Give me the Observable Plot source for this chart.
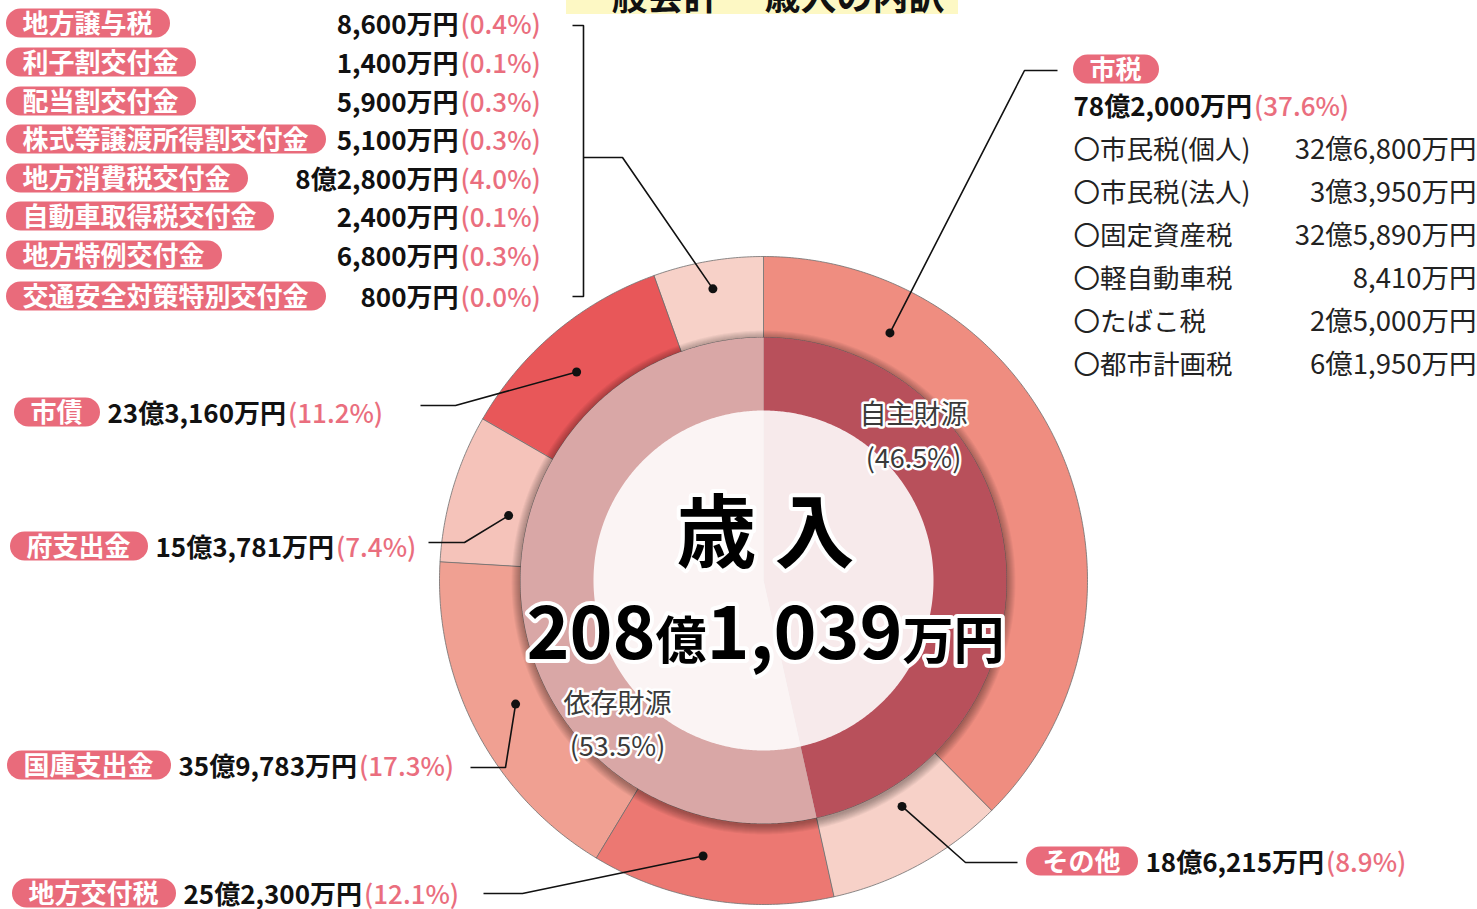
<!DOCTYPE html>
<html><head><meta charset="utf-8">
<script src="https://cdn.jsdelivr.net/npm/d3@7"></script>
<script src="https://cdn.jsdelivr.net/npm/@observablehq/plot@0.6"></script>
<style>body{margin:0;background:#fff;overflow:hidden}</style>
</head><body><div id="chart"></div>
<script>
// ---------- data ----------
const titleParts = ["一般会計", "歳入の内訳"];
const centerTitle = "歳 入";
const totalParts = ["208", "億", "1,039", "万円"];

const mainNames = ["市税", "その他", "地方交付税", "国庫支出金", "府支出金", "市債"];
const mainAmounts = [782000, 186215, 252300, 359783, 153781, 233160]; // 万円
const mainAmountLabels = ["78億2,000万円", "18億6,215万円", "25億2,300万円", "35億9,783万円", "15億3,781万円", "23億3,160万円"];
const mainPercents = ["37.6%", "8.9%", "12.1%", "17.3%", "7.4%", "11.2%"];

const smallNames = ["地方譲与税", "利子割交付金", "配当割交付金", "株式等譲渡所得割交付金", "地方消費税交付金", "自動車取得税交付金", "地方特例交付金", "交通安全対策特別交付金"];
const smallAmounts = [8600, 1400, 5900, 5100, 82800, 2400, 6800, 800]; // 万円
const smallAmountLabels = ["8,600万円", "1,400万円", "5,900万円", "5,100万円", "8億2,800万円", "2,400万円", "6,800万円", "800万円"];
const smallPercents = ["0.4%", "0.1%", "0.3%", "0.3%", "4.0%", "0.1%", "0.3%", "0.0%"];

const sourceNames = ["自主財源", "依存財源"];
const sourcePercents = [46.5, 53.5];

const cityTaxItems = ["〇市民税(個人)", "〇市民税(法人)", "〇固定資産税", "〇軽自動車税", "〇たばこ税", "〇都市計画税"];
const cityTaxValues = ["32億6,800万円", "3億3,950万円", "32億5,890万円", "8,410万円", "2億5,000万円", "6億1,950万円"];

// ---------- styles / layout ----------
const W = 1477, H = 909;
const FONT = "'Noto Sans CJK JP','Noto Sans CJK SC',sans-serif";
const outerColors = ["#ef8d80", "#f7d1c8", "#ec7872", "#f0a092", "#f5c3ba", "#e85759", "#f7d1c8"];
const sourceColors = ["#b8505b", "#d9a7a6"];
const pillColor = "#e96b7b", pctColor = "#ea6e7e";
const cx = 763, cy = 580, R0 = 170, R1 = 243, R2 = 324;
const mainLayout = [
  {t: 0.20, r: 278, elbow: [1024, 70], end: [1057, 70], pill: [1073, 69], valueBelow: [1073, 105]},
  {t: 0.41, r: 265, elbow: [965, 862], end: [1017, 862], pill: [1026, 861]},
  {t: 0.57, r: 282, elbow: [522, 893], end: [483, 893], pill: [12, 893]},
  {t: 0.52, r: 277, elbow: [505, 767], end: [470, 767], pill: [7, 765]},
  {t: 0.41, r: 263, elbow: [464, 542], end: [428, 542], pill: [10, 546]},
  {t: 0.45, r: 280, elbow: [455, 405], end: [420, 405], pill: [14, 412]}
];
const smallLayout = {t: 0.5, r: 296, elbow: [622, 157], end: [583, 157], rowsY: [23, 62, 101, 139, 178, 216, 255, 296], pillX: 6, valueX: 458, bracketX: 583, bracketTick: 572};
const cityRowsY = [148, 191, 234, 277, 320, 363];

// ---------- helpers ----------
const ctx = document.createElement("canvas").getContext("2d");
function tw(text, size, weight) { ctx.font = `${weight} ${size}px ${FONT}`; return ctx.measureText(text).width; }
const polar = (a, r) => ({x: cx + r * Math.sin(a), y: cy - r * Math.cos(a)});
function wedge(key, a0, a1, r0, r1, color) {
  const pts = [];
  const n = Math.max(2, Math.ceil((a1 - a0) / (Math.PI / 360)));
  for (let i = 0; i <= n; i++) pts.push({key, color, ...polar(a0 + (a1 - a0) * i / n, r1)});
  for (let i = n; i >= 0; i--) pts.push({key, color, ...polar(a0 + (a1 - a0) * i / n, r0)});
  return pts;
}

// outer ring
const outerAmounts = [...mainAmounts, d3.sum(smallAmounts)];
const total = d3.sum(outerAmounts);
let cum = 0;
const outerArcs = outerAmounts.map((v, i) => {
  const a0 = cum / total * 2 * Math.PI; cum += v;
  return {i, a0, a1: cum / total * 2 * Math.PI};
});
const outerPts = outerArcs.flatMap(d => wedge("o" + d.i, d.a0, d.a1, R1, R2, outerColors[d.i]));
// inner ring
let cumS = 0;
const sTotal = d3.sum(sourcePercents);
const innerPts = sourcePercents.flatMap((v, i) => {
  const a0 = cumS / sTotal * 2 * Math.PI; cumS += v;
  return wedge("s" + i, a0, cumS / sTotal * 2 * Math.PI, 0, R1, sourceColors[i]);
});
const shadowPts = d3.range(1, 10).flatMap(k => wedge("sh" + k, 0, 2 * Math.PI, 0, R1 + k, "#000").map(p => ({...p, y: p.y + 2})));
const centerPts = wedge("c", 0, 2 * Math.PI, 0, R0, "#fff");

// leaders
const leaders = [];
const dots = [];
mainLayout.forEach((L, i) => {
  const a = outerArcs[i].a0 + (outerArcs[i].a1 - outerArcs[i].a0) * L.t;
  const p = polar(a, L.r);
  dots.push(p);
  leaders.push({key: "m" + i, ...p}, {key: "m" + i, x: L.elbow[0], y: L.elbow[1]}, {key: "m" + i, x: L.end[0], y: L.end[1]});
});
{
  const A = outerArcs[6];
  const p = polar(A.a0 + (A.a1 - A.a0) * smallLayout.t, smallLayout.r);
  dots.push(p);
  const S = smallLayout;
  leaders.push({key: "s", ...p}, {key: "s", x: S.elbow[0], y: S.elbow[1]}, {key: "s", x: S.end[0], y: S.end[1]});
  const yTop = S.rowsY[0] + 2, yBot = S.rowsY[S.rowsY.length - 1];
  leaders.push({key: "b", x: S.bracketTick, y: yTop}, {key: "b", x: S.bracketX, y: yTop}, {key: "b", x: S.bracketX, y: yBot}, {key: "b", x: S.bracketTick, y: yBot});
}

// pills & labels
const PILL_FS = 26, VAL_FS = 26;
const pills = [], pillTexts = [], valuesEnd = [], valuesStart = [], pcts = [];
smallNames.forEach((n, i) => {
  const y = smallLayout.rowsY[i], x = smallLayout.pillX;
  const w = tw(n, PILL_FS, "bold") + 34;
  pills.push({x1: x, x2: x + w, y1: y - 14.5, y2: y + 14.5});
  pillTexts.push({x: x + 16, y: y + 9, t: n});
  valuesEnd.push({x: smallLayout.valueX, y: y + 10, t: smallAmountLabels[i]});
  pcts.push({x: smallLayout.valueX + 2, y: y + 10, t: "(" + smallPercents[i] + ")"});
});
mainNames.forEach((n, i) => {
  const L = mainLayout[i];
  const [x, y] = L.pill;
  const w = tw(n, PILL_FS, "bold") + 34;
  pills.push({x1: x, x2: x + w, y1: y - 14.5, y2: y + 14.5});
  pillTexts.push({x: x + 16, y: y + 9, t: n});
  let vx, vy;
  if (L.valueBelow) { [vx, vy] = L.valueBelow; vy += 10; } else { vx = x + w + 7; vy = y + 10; }
  valuesStart.push({x: vx, y: vy, t: mainAmountLabels[i]});
  pcts.push({x: vx + tw(mainAmountLabels[i], VAL_FS, "bold") + 2, y: vy, t: "(" + mainPercents[i] + ")"});
});

// center total
const TOT_SIZES = [73, 51, 73, 51];
const totW = totalParts.map((t, i) => tw(t, TOT_SIZES[i], "bold"));
let tx = 765 - d3.sum(totW) / 2;
const totalTexts = totalParts.map((t, i) => { const d = {x: tx, y: 658, t, fs: TOT_SIZES[i]}; tx += totW[i]; return d; });

const T = (data, o) => Plot.text(data, {x: "x", y: "y", text: "t", fontFamily: FONT, lineAnchor: "bottom", ...o});

const chart = Plot.plot({
  width: W, height: H,
  margin: 0,
  x: {domain: [0, W], range: [0, W], axis: null},
  y: {domain: [0, H], range: [0, H], axis: null},
  color: {type: "identity"},
  style: {background: "#fff"},
  marks: [
    Plot.rect([{x1: 566, x2: 958, y1: -20, y2: 14}], {x1: "x1", x2: "x2", y1: "y1", y2: "y2", fill: "#fdf8c4"}),
    T([{x: 575, y: 9, t: titleParts[0]}, {x: 764, y: 9, t: titleParts[1]}], {fontSize: 36, fontWeight: "bold", fill: "#111", textAnchor: "start"}),
    Plot.line(outerPts, {x: "x", y: "y", z: "key", fill: "color", stroke: "#6f6f6f", strokeWidth: 0.8, curve: "linear-closed"}),
    Plot.line(shadowPts, {x: "x", y: "y", z: "key", fill: "#000", fillOpacity: 0.04, stroke: "none", curve: "linear-closed"}),
    Plot.line(innerPts, {x: "x", y: "y", z: "key", fill: "color", stroke: "none", curve: "linear-closed"}),
    Plot.line(centerPts, {x: "x", y: "y", z: "key", fill: "#fff", fillOpacity: 0.88, stroke: "none", curve: "linear-closed"}),
    Plot.line(leaders, {x: "x", y: "y", z: "key", stroke: "#111", strokeWidth: 1.6, strokeLinejoin: "miter", strokeLinecap: "butt"}),
    Plot.dot(dots, {x: "x", y: "y", r: 4.5, fill: "#111"}),
    Plot.rect(pills, {x1: "x1", x2: "x2", y1: "y1", y2: "y2", rx: 14.5, fill: pillColor}),
    T(pillTexts, {fontSize: PILL_FS, fontWeight: "bold", fill: "#fff", textAnchor: "start"}),
    T(valuesEnd, {fontSize: VAL_FS, fontWeight: "bold", fill: "#111", textAnchor: "end"}),
    T(valuesStart, {fontSize: VAL_FS, fontWeight: "bold", fill: "#111", textAnchor: "start"}),
    T(pcts, {fontSize: VAL_FS, fontWeight: 500, fill: pctColor, textAnchor: "start"}),
    T(cityTaxItems.map((t, i) => ({x: 1073, y: cityRowsY[i] + 10, t})), {fontSize: 26.5, fontWeight: 400, fill: "#222", textAnchor: "start"}),
    T(cityTaxValues.map((t, i) => ({x: 1476, y: cityRowsY[i] + 10, t})), {fontSize: 27.5, fontWeight: 400, fill: "#222", textAnchor: "end"}),
    T([{x: 913, y: 423, t: sourceNames[0]}, {x: 913, y: 467, t: "(" + sourcePercents[0] + "%)"},
       {x: 617, y: 712, t: sourceNames[1]}, {x: 617, y: 755, t: "(" + sourcePercents[1] + "%)"}],
      {fontSize: 27, fontWeight: 400, fill: "#3a3a3a", stroke: "#fff", strokeWidth: 5, paintOrder: "stroke", textAnchor: "middle"}),
    T([{x: 765, y: 560, t: centerTitle}], {fontSize: 80, fontWeight: "bold", fill: "#000", stroke: "#fff", strokeWidth: 8, strokeLinejoin: "round", paintOrder: "stroke", textAnchor: "middle"}),
    T(totalTexts, {fontSize: d => d.fs, fontWeight: "bold", fill: "#000", stroke: "#fff", strokeWidth: 8, strokeLinejoin: "round", paintOrder: "stroke", textAnchor: "start"})
  ]
});
document.getElementById("chart").appendChild(chart);
</script>
</body></html>
